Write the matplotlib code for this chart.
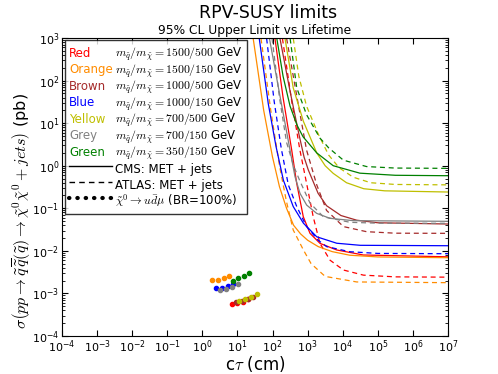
import matplotlib
matplotlib.use("Agg")
import matplotlib.pyplot as plt
from matplotlib.legend_handler import HandlerBase
from matplotlib.lines import Line2D
from matplotlib.text import Text

plt.rcParams['mathtext.fontset'] = 'cm'

# colour names and mass points for the legend
names = ['Red', 'Orange', 'Brown', 'Blue', 'Yellow', 'Grey', 'Green']
colors = ['#ff0000', '#ff8c00', '#a52a2a', '#0000ff', '#bfbf00', '#808080', '#008000']
masses = ['1500/500', '1500/150', '1000/500', '1000/150', '700/500', '700/150', '350/150']

# CMS limits (solid), c*tau in cm and sigma in pb
cms_ct = {
    'Red':    [93.3, 117, 200, 352, 489, 753, 1170, 2254, 6730, 38600, 1e7],
    'Orange': [22, 28, 56, 100, 158, 251, 398, 631, 1000, 2000, 5000, 15850, 1e5, 1e7],
    'Brown':  [132, 162, 316, 562, 794, 1047, 1995, 3467, 8913, 25100, 1e5, 1e7],
    'Blue':   [31.6, 41.7, 75.9, 126, 204, 389, 759, 1820, 6760, 31600, 1e7],
    'Yellow': [186, 226, 389, 759, 1820, 3162, 5370, 12880, 39800, 158500, 1e7],
    'Grey':   [66.1, 81.3, 158, 315, 437, 607, 940, 1811, 4335, 20050, 1e7],
    'Green':  [107, 132, 200, 316, 501, 741, 1820, 5370, 30900, 316200, 1e7],
}
cms_sigma = {
    'Red':    [3981, 1000, 39.8, 2.34, 0.386, 0.0634, 0.0258, 0.0150, 0.0105, 0.0080, 0.00724],
    'Orange': [4000, 1000, 20, 1.6, 0.32, 0.1, 0.04, 0.025, 0.0178, 0.0126, 0.0096, 0.0079, 0.0072, 0.0069],
    'Brown':  [3981, 1000, 56.2, 5.62, 1.585, 0.794, 0.224, 0.115, 0.0676, 0.0525, 0.0457, 0.0427],
    'Blue':   [3981, 1000, 28.2, 2.82, 0.457, 0.110, 0.0447, 0.0214, 0.0151, 0.0135, 0.0132],
    'Yellow': [3981, 1000, 67.6, 11.0, 2.0, 1.0, 0.661, 0.398, 0.288, 0.257, 0.241],
    'Grey':   [3981, 1000, 50.1, 2.34, 0.552, 0.224, 0.119, 0.0760, 0.0581, 0.0512, 0.0494],
    'Green':  [3981, 1000, 126, 25.1, 8.91, 4.79, 2.0, 1.0, 0.668, 0.596, 0.582],
}

# ATLAS limits (dashed)
atlas_ct = {
    'Red':    [155, 191, 355, 603, 933, 1445, 2239, 4365, 10470, 38900, 316200, 1e7],
    'Orange': [37.2, 46.8, 89.1, 158, 251, 389, 759, 1259, 3162, 25100, 1e7],
    'Brown':  [209, 251, 501, 933, 1820, 3467, 10470, 47860, 316200, 1e7],
    'Blue':   [55, 67.6, 112, 178, 282, 490, 933, 1995, 3467, 15850, 1e5, 1e7],
    'Yellow': [331, 389, 562, 933, 1995, 3981, 7943, 19950, 63100, 316200, 1e7],
    'Grey':   [79.4, 96.6, 158, 251, 398, 603, 1175, 2818, 16200, 1e5, 1e7],
    'Green':  [263, 316, 490, 933, 2239, 3981, 10470, 47860, 316200, 1e7],
}
atlas_sigma = {
    'Red':    [3981, 1000, 31.6, 2.34, 0.389, 0.0631, 0.0151, 0.00603, 0.00355, 0.00269, 0.00245, 0.00241],
    'Orange': [3981, 1000, 20.0, 1.0, 0.141, 0.0309, 0.0105, 0.0050, 0.00251, 0.00186, 0.00179],
    'Brown':  [3981, 1000, 39.8, 2.34, 0.355, 0.0891, 0.0372, 0.0282, 0.0260, 0.0258],
    'Blue':   [3981, 1000, 31.6, 2.51, 0.355, 0.110, 0.0372, 0.0178, 0.0126, 0.00955, 0.00871, 0.00857],
    'Yellow': [3981, 1000, 126, 25.1, 5.62, 1.778, 0.891, 0.537, 0.398, 0.363, 0.355],
    'Grey':   [3981, 1000, 39.8, 3.55, 1.0, 0.437, 0.132, 0.0631, 0.0468, 0.0447, 0.0444],
    'Green':  [3981, 1000, 67.6, 15.8, 4.47, 2.63, 1.349, 0.955, 0.881, 0.867],
}

# neutralino -> u d mu (BR=100%) points
br_ct = {
    'Red':    [7.0, 9.7, 14.1, 20.4],
    'Orange': [1.85, 2.74, 4.06, 5.86],
    'Brown':  [8.9, 13.2, 19.6, 27.7],
    'Blue':   [2.40, 3.56, 5.27, 7.62],
    'Yellow': [11.3, 16.7, 24.3, 35.4],
    'Grey':   [3.25, 4.81, 7.13, 10.4],
    'Green':  [7.32, 10.4, 15.1, 21.3],
}
br_sigma = {
    'Red':    [0.000564, 0.000605, 0.000638, 0.000728],
    'Orange': [0.00207, 0.00207, 0.00226, 0.00261],
    'Brown':  [0.000618, 0.000653, 0.00074, 0.000838],
    'Blue':   [0.00134, 0.00132, 0.00147, 0.00166],
    'Yellow': [0.000675, 0.00074, 0.000824, 0.000968],
    'Grey':   [0.00118, 0.00127, 0.00142, 0.00164],
    'Green':  [0.00196, 0.00226, 0.00261, 0.00307],
}


class ColourName:
    def __init__(self, name, color):
        self.name = name
        self.color = color


class ColourNameHandler(HandlerBase):
    """Draws the colour name as text in place of a legend line."""
    def create_artists(self, legend, orig_handle, xdescent, ydescent,
                       width, height, fontsize, trans):
        t = Text(-xdescent, height / 2.0 - ydescent, orig_handle.name,
                 color=orig_handle.color, fontsize=fontsize,
                 ha='left', va='center', transform=trans)
        return [t]


fig = plt.figure(figsize=(4.98, 3.74), dpi=100)
ax = fig.add_axes([0.1245, 0.1016, 0.775, 0.7968])

for name, c in zip(names, colors):
    ax.plot(cms_ct[name], cms_sigma[name], '-', color=c, lw=0.9)
    ax.plot(atlas_ct[name], atlas_sigma[name], '--', color=c, lw=0.9, dashes=(4, 3))
    ax.plot(br_ct[name], br_sigma[name], 'o', color=c, mec=c, ms=3.0, ls='none')

ax.set_xscale('log')
ax.set_yscale('log')
ax.set_xlim(1e-4, 1e7)
ax.set_ylim(1e-4, 1e3)
ax.set_xticks([10.0 ** k for k in range(-4, 8)])
ax.set_yticks([10.0 ** k for k in range(-4, 4)])
ax.tick_params(which='both', direction='in', top=True, right=True, labelsize=8)
ax.tick_params(which='major', length=4, pad=2)
ax.tick_params(which='minor', length=2)

ax.set_xlabel(r'c$\tau$ (cm)', fontsize=12)
ax.xaxis.set_label_coords(0.5, -0.062)
ax.set_ylabel(r'$\sigma\left(pp\rightarrow\widetilde{q}\,\overline{\widetilde{q}}(\widetilde{q})'
              r'\rightarrow\tilde{\chi}^0\tilde{\chi}^0+jets\right)$ (pb)', fontsize=11.5)
ax.yaxis.set_label_coords(-0.074, 0.42)
ax.set_title('95% CL Upper Limit vs Lifetime', fontsize=8.8, pad=3)
fig.text(0.539, 0.966, 'RPV-SUSY limits', ha='center', va='center', fontsize=12.5)

handles = [ColourName(n, c) for n, c in zip(names, colors)]
labels = [r'$m_{\tilde{q}}/m_{\tilde{\chi}}=%s$ GeV' % m for m in masses]
handles += [Line2D([], [], color='k', lw=1.0),
            Line2D([], [], color='k', lw=1.0, dashes=(4, 3)),
            Line2D([], [], color='k', lw=3, ls=(0, (0.1, 1.9)), dash_capstyle='round')]
labels += ['CMS: MET + jets', 'ATLAS: MET + jets',
           r'$\tilde{\chi}^0\rightarrow u\bar{d}\mu$ (BR=100%)']

leg = ax.legend(handles, labels, loc='upper left', bbox_to_anchor=(0.008, 0.993),
                borderaxespad=0, fontsize=8.5, handlelength=3.6, handletextpad=0.3,
                handleheight=2.0, labelspacing=-0.2, borderpad=0.35, fancybox=False,
                handler_map={ColourName: ColourNameHandler()})
leg.get_frame().set_edgecolor('k')
leg.get_frame().set_linewidth(1.0)

fig.savefig('out.png', dpi=100)
